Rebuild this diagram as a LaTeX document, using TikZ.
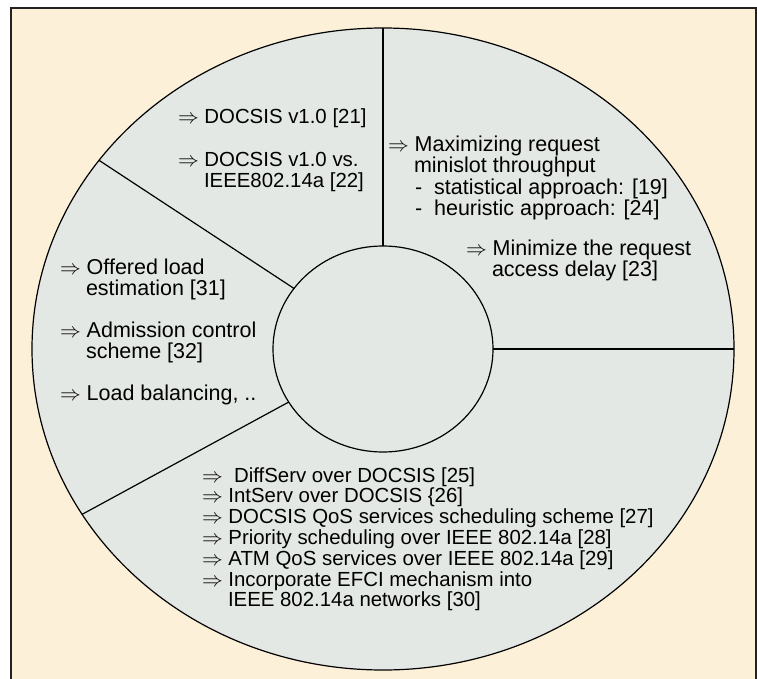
\documentclass[tikz,border=0pt]{standalone}
\usepackage{fontspec}
\setmainfont{Liberation Sans}
\usetikzlibrary{calc}
\definecolor{cream}{HTML}{FCF0D8}
\definecolor{ringgray}{HTML}{E4E8E4}
\definecolor{framegray}{HTML}{222222}
\begin{document}
\begin{tikzpicture}[x=1pt,y=1pt,
  item/.style={anchor=base west, inner sep=0pt, outer sep=0pt, font=\fontsize{21.5}{21}\selectfont},
  itemsm/.style={item, font=\fontsize{20.4}{21}\selectfont},
  divider/.style={line width=1.2pt, draw=black},
  rim/.style={line width=1.2pt, draw=black, fill=ringgray}]
\useasboundingbox (0,0) rectangle (757,-679);
\fill[white] (0,0) rectangle (757,-679);
% cream panel with its frame
\draw[framegray, line width=1.6pt, fill=cream] (11,-8) rectangle (756,-700);
% outer ring and hub
\coordinate (c) at (383,-349);
\draw[rim] (c) ellipse [x radius=351pt, y radius=321pt];
\draw[rim] (c) ellipse [x radius=110pt, y radius=103pt];
% sector boundaries, hub to rim
\foreach \n/\a in {n/90, e/0, ul/144, ll/211}{
  \coordinate (in-\n) at ($(c)+(\a:110pt and 103pt)$);
  \coordinate (out-\n) at ($(c)+(\a:351pt and 321pt)$);
}
\draw[divider] (in-n) -- (out-n);
\draw[divider] (in-e) -- (out-e);
\draw[divider] (in-ul) -- (out-ul);
\draw[divider] (in-ll) -- (out-ll);
% upper-left sector
\node[itemsm] (tl-a) at (178,-124) {$\Rightarrow$ DOCSIS v1.0 [21]};
\node[itemsm] (tl-b) at (178,-167) {$\Rightarrow$ DOCSIS v1.0 vs.};
\node[itemsm] (tl-b2) at (204,-188) {IEEE802.14a [22]};
% upper-right sector
\node[item] (tr-a) at (388,-152) {$\Rightarrow$ Maximizing request};
\node[item] (tr-a2) at (414,-173) {minislot throughput};
\node[item] (tr-a3) at (415,-194) {-~~statistical approach: [19]};
\node[item] (tr-a4) at (415,-215) {-~~heuristic approach: [24]};
\node[item] (tr-b) at (466,-255) {$\Rightarrow$ Minimize the request};
\node[item] (tr-b2) at (492,-276) {access delay [23]};
% left sector
\node[item] (l-a) at (60,-274) {$\Rightarrow$ Offered load};
\node[item] (l-a2) at (86,-295) {estimation [31]};
\node[item] (l-b) at (60,-337) {$\Rightarrow$ Admission control};
\node[item] (l-b2) at (86,-358) {scheme [32]};
\node[item] (l-c) at (60,-400) {$\Rightarrow$ Load balancing, ..};
% bottom sector
\node[itemsm] (b-a) at (202,-482) {$\Rightarrow$ \ DiffServ over DOCSIS [25]};
\node[itemsm] (b-b) at (202,-502.8) {$\Rightarrow$ IntServ over DOCSIS \{26]};
\node[itemsm] (b-c) at (202,-523.6) {$\Rightarrow$ DOCSIS QoS services scheduling scheme [27]};
\node[itemsm] (b-d) at (202,-544.4) {$\Rightarrow$ Priority scheduling over IEEE 802.14a [28]};
\node[itemsm] (b-e) at (202,-565.2) {$\Rightarrow$ ATM QoS services over IEEE 802.14a [29]};
\node[itemsm] (b-f) at (202,-586) {$\Rightarrow$ Incorporate EFCI mechanism into};
\node[itemsm] (b-f2) at (228,-606.8) {IEEE 802.14a networks [30]};
\end{tikzpicture}
\end{document}
